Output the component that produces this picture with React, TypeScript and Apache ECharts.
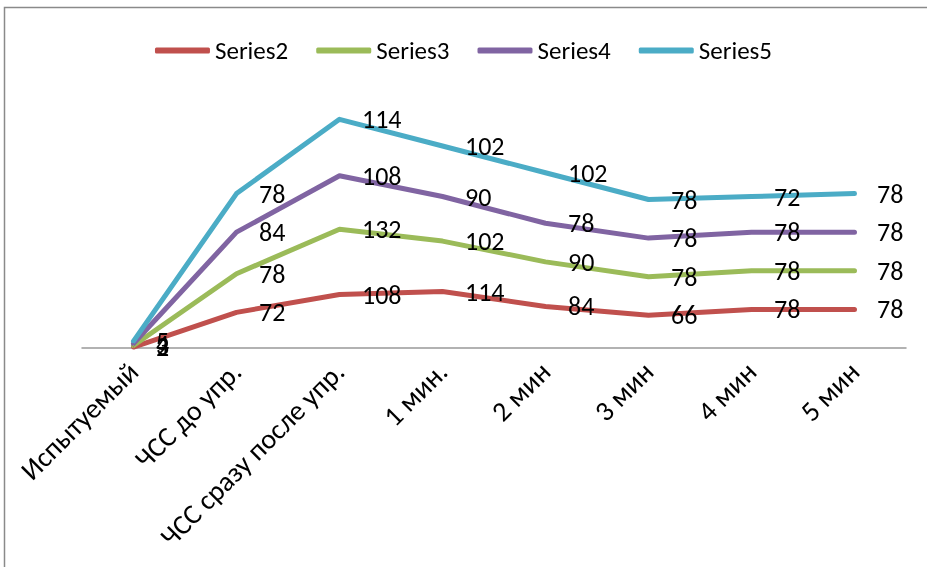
import React, { useEffect, useRef } from "react";
import * as echarts from "echarts";

const categories = ["Испытуемый", "ЧСС до упр.", "ЧСС сразу после упр.", "1 мин.", "2 мин", "3 мин", "4 мин", "5 мин"];
const seriesNames = ["Series2", "Series3", "Series4", "Series5"];
const series2 = [2, 72, 108, 114, 84, 66, 78, 78];
const series3 = [3, 78, 132, 102, 90, 78, 78, 78];
const series4 = [4, 84, 108, 90, 78, 78, 78, 78];
const series5 = [5, 78, 114, 102, 102, 78, 72, 78];
const colors = ["#C0504D", "#9BBB59", "#8064A2", "#4BACC6"];

const FONT = "Carlito, Lato, 'Noto Sans', sans-serif";

export default function App() {
  const ref = useRef<HTMLDivElement>(null);
  useEffect(() => {
    if (!ref.current) return;
    const chart = echarts.init(ref.current, undefined, { renderer: "svg" });
    const data = [series2, series3, series4, series5];
    chart.setOption({
      animation: false,
      color: colors,
      textStyle: { fontFamily: FONT },
      graphic: [
        {
          type: "rect",
          shape: { x: 4.5, y: 7.5, width: 1000, height: 1000 },
          style: { fill: "none", stroke: "#8a8a8a", lineWidth: 1.5 },
          silent: true,
        },
      ],
      legend: {
        top: 33,
        left: "center",
        itemWidth: 55,
        itemHeight: 6,
        itemGap: 28,
        icon: "roundRect",
        textStyle: { fontSize: 25, color: "#000", fontFamily: FONT },
        data: seriesNames,
      },
      grid: { left: 82, right: 21, top: 100.5, bottom: 219 },
      xAxis: {
        type: "category",
        data: categories,
        boundaryGap: true,
        axisLine: { lineStyle: { color: "#999", width: 1.5 } },
        axisTick: { show: false },
        axisLabel: { rotate: 45, fontSize: 28, color: "#000", margin: 19, fontFamily: FONT, interval: 0 },
      },
      yAxis: { type: "value", min: 0, max: 500, show: false, splitLine: { show: false } },
      series: data.map((d, i) => ({
        name: seriesNames[i],
        type: "line",
        stack: "total",
        data: d,
        symbol: "circle",
        symbolSize: 1,
        showSymbol: true,
        lineStyle: { width: 5, cap: "round", join: "round", color: colors[i] },
        itemStyle: { color: colors[i] },
        label: {
          show: true,
          position: "right",
          distance: 22,
          fontSize: 26,
          color: "#000",
          fontFamily: FONT,
          formatter: (p: any) => String(p.value),
        },
      })),
    });
    return () => chart.dispose();
  }, []);
  return <div ref={ref} style={{ position: "fixed", left: 0, top: 0, width: 927, height: 567 }} />;
}
